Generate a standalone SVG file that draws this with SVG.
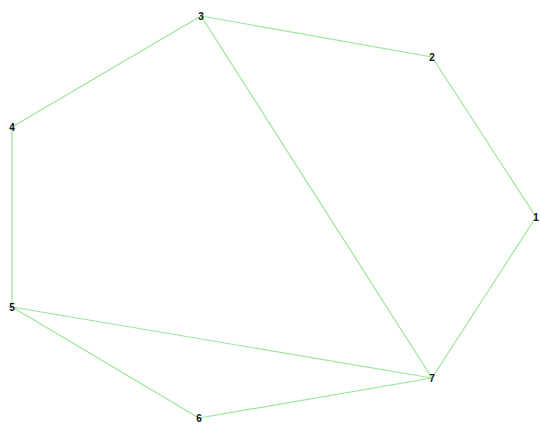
<svg xmlns="http://www.w3.org/2000/svg" width="541" height="426" viewBox="0 0 541 426">
<style>
.e{stroke:#99e699;stroke-width:1.2;fill:none}
.l{font-family:"Liberation Sans",Arial,sans-serif;font-size:10px;font-weight:bold;fill:#111;text-anchor:middle;dominant-baseline:central}
</style>
<rect width="541" height="426" fill="#fff"/>
<g id="edges">
<line class="e" x1="201" y1="16" x2="432" y2="57"/>
<line class="e" x1="432" y1="57" x2="536" y2="217"/>
<line class="e" x1="536" y1="217" x2="432" y2="378"/>
<line class="e" x1="201" y1="16" x2="12" y2="127"/>
<line class="e" x1="12" y1="127" x2="12" y2="307"/>
<line class="e" x1="12" y1="307" x2="199" y2="418"/>
<line class="e" x1="199" y1="418" x2="432" y2="378"/>
<line class="e" x1="12" y1="307" x2="432" y2="378"/>
<line class="e" x1="201" y1="16" x2="432" y2="378"/>
</g>
<g id="n1"><text class="l" x="536" y="217">1</text></g>
<g id="n2"><text class="l" x="432" y="57">2</text></g>
<g id="n3"><text class="l" x="201" y="16">3</text></g>
<g id="n4"><text class="l" x="12" y="127">4</text></g>
<g id="n5"><text class="l" x="12" y="307">5</text></g>
<g id="n6"><text class="l" x="199" y="418">6</text></g>
<g id="n7"><text class="l" x="432" y="378">7</text></g>
</svg>
